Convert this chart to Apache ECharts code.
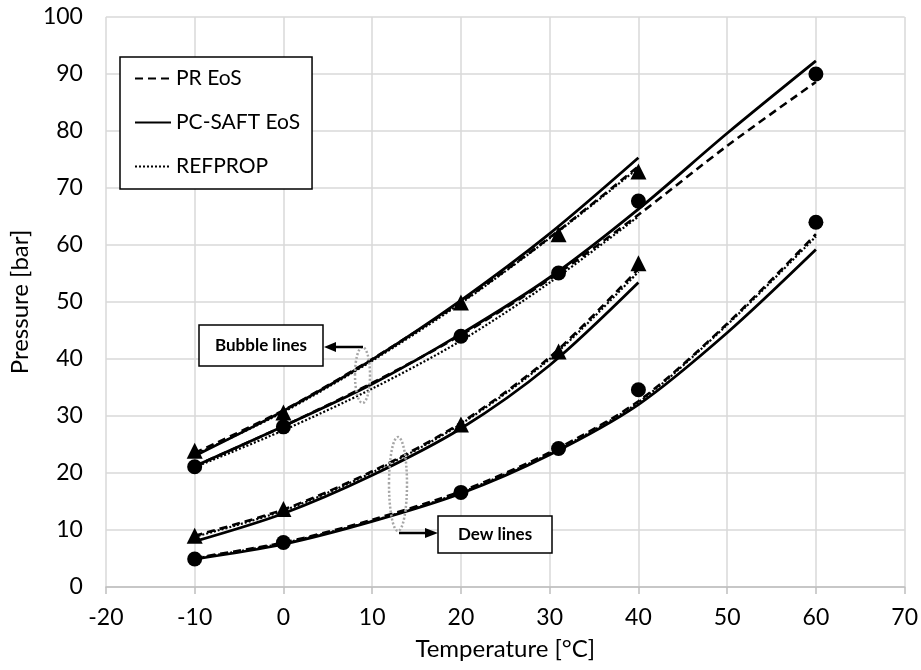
<!DOCTYPE html>
<html>
<head>
<meta charset="utf-8">
<script src="https://cdn.jsdelivr.net/npm/echarts@6/dist/echarts.min.js"></script>
<style>
html,body{margin:0;padding:0;background:#fff;}
#chart{width:921px;height:670px;}
</style>
</head>
<body>
<div id="chart"></div>
<script>
// ---- data ----
const xTicks = [-20, -10, 0, 10, 20, 30, 40, 50, 60, 70];
const tShort = [-10, 0, 10, 20, 30, 40];
const tLong = [-10, 0, 10, 20, 30, 40, 50, 60];

// bubble lines, mixture with triangles
const bubbleTriPR = [23.5, 31.0, 40.0, 50.0, 61.3, 73.8];
const bubbleTriSAFT = [23.0, 30.9, 39.9, 50.3, 62.0, 75.3];
const bubbleTriREF = [23.2, 30.7, 39.7, 49.8, 61.2, 73.5];
// bubble lines, mixture with circles
const bubbleCircPR = [21.2, 28.2, 35.8, 44.2, 54.0, 65.3, 77.4, 88.6];
const bubbleCircSAFT = [21.2, 28.2, 35.6, 44.4, 54.3, 66.3, 79.6, 92.3];
const bubbleCircREF = [21.0, 27.5, 34.8, 43.2, 53.4, 65.0];
// dew lines, mixture with triangles
const dewTriPR = [9.0, 13.6, 20.3, 28.8, 40.3, 55.8];
const dewTriSAFT = [8.0, 12.9, 19.6, 27.8, 38.9, 53.4];
const dewTriREF = [8.8, 13.4, 20.1, 28.6, 40.0, 55.3];
// dew lines, mixture with circles
const dewCircPR = [5.1, 7.8, 11.8, 16.8, 23.6, 32.6, 46.2, 61.9];
const dewCircSAFT = [4.9, 7.5, 11.5, 16.4, 23.2, 32.0, 44.6, 59.2];
const dewCircREF = [5.0, 7.7, 11.6, 16.6, 23.4, 32.4, 46.0, 61.5];

// experimental points
const tTri = [-10, 0, 20, 31, 40];
const tCirc = [-10, 0, 20, 31, 40, 60];
const bubbleTriExp = [23.9, 30.6, 49.9, 61.9, 72.9];
const bubbleCircExp = [21.1, 28.1, 44.0, 55.1, 67.7, 90.0];
const dewTriExp = [9.0, 13.7, 28.5, 41.3, 56.8];
const dewCircExp = [4.9, 7.8, 16.6, 24.3, 34.6, 64.0];

const names = {pr: 'PR EoS', saft: 'PC-SAFT EoS', ref: 'REFPROP'};

// ---- build ----
const FONT = 'Lato, "Open Sans", sans-serif';
function zip(xs, ys) { return ys.map((y, i) => [xs[i], y]); }
const styles = {
  pr: {color: '#000', width: 2.6, type: [8, 5]},
  saft: {color: '#000', width: 2.8, type: 'solid'},
  ref: {color: '#000', width: 2.2, type: [2, 2]}
};
function lineSeries(key, xs, ys) {
  return {
    name: names[key], type: 'line', data: zip(xs, ys), smooth: 0.3,
    symbol: 'none', showSymbol: false, lineStyle: styles[key], itemStyle: {color: '#000'},
    z: key === 'saft' ? 3 : 2, silent: true, animation: false
  };
}
function scatter(name, symbol, size, xs, ys) {
  return {name: name, type: 'scatter', symbol: symbol, symbolSize: size, data: zip(xs, ys),
    itemStyle: {color: '#000', opacity: 1}, z: 5, animation: false, silent: true};
}
const series = [
  lineSeries('pr', tShort, bubbleTriPR),
  lineSeries('saft', tShort, bubbleTriSAFT),
  lineSeries('ref', tShort, bubbleTriREF),
  lineSeries('pr', tLong, bubbleCircPR),
  lineSeries('saft', tLong, bubbleCircSAFT),
  lineSeries('ref', tShort, bubbleCircREF),
  lineSeries('pr', tShort, dewTriPR),
  lineSeries('saft', tShort, dewTriSAFT),
  lineSeries('ref', tShort, dewTriREF),
  lineSeries('pr', tLong, dewCircPR),
  lineSeries('saft', tLong, dewCircSAFT),
  lineSeries('ref', tLong, dewCircREF),
  scatter('exp-bubble-tri', 'triangle', 16, tTri, bubbleTriExp),
  scatter('exp-bubble-circ', 'circle', 15, tCirc, bubbleCircExp),
  scatter('exp-dew-tri', 'triangle', 16, tTri, dewTriExp),
  scatter('exp-dew-circ', 'circle', 15, tCirc, dewCircExp)
];

const chart = echarts.init(document.getElementById('chart'), null, {renderer: 'canvas'});
const gridColor = '#d9d9d9';
const axisColor = '#bfbfbf';
chart.setOption({
  animation: false,
  backgroundColor: '#fff',
  textStyle: {fontFamily: FONT},
  grid: {left: 98, right: 16, top: 17, bottom: 83, containLabel: false},
  legend: {
    data: [names.pr, names.saft, names.ref],
    orient: 'vertical', left: 120, top: 57,
    padding: [11, 12, 12, 14], itemGap: 23, itemWidth: 36, itemHeight: 20,
    itemStyle: {opacity: 0},
    borderColor: '#000', borderWidth: 1.5, backgroundColor: '#fff',
    textStyle: {fontFamily: FONT, fontSize: 21, color: '#000'},
    selectedMode: false, z: 10
  },
  xAxis: {
    type: 'value', min: -20, max: 70, interval: 10,
    name: 'Temperature [°C]', nameLocation: 'middle', nameGap: 50,
    nameTextStyle: {fontFamily: FONT, fontSize: 24, color: '#000'},
    axisLine: {show: true, onZero: false, lineStyle: {color: axisColor, width: 1.5}},
    axisTick: {show: true, length: 7, lineStyle: {color: axisColor, width: 1.5}},
    axisLabel: {fontFamily: FONT, fontSize: 23, color: '#000', margin: 19,
      formatter: v => xTicks.includes(v) ? String(v) : ''},
    splitLine: {show: true, lineStyle: {color: gridColor, width: 1.5}}
  },
  yAxis: {
    type: 'value', min: 0, max: 100, interval: 10,
    name: 'Pressure [bar]', nameLocation: 'middle', nameGap: 64, nameRotate: 90,
    nameTextStyle: {fontFamily: FONT, fontSize: 24, color: '#000'},
    axisLine: {show: false}, axisTick: {show: false},
    axisLabel: {fontFamily: FONT, fontSize: 23, color: '#000', margin: 23},
    splitLine: {show: true, lineStyle: {color: gridColor, width: 1.5}}
  },
  series: series,
  graphic: [
    // bubble lines annotation
    {type: 'ellipse', shape: {cx: 362.5, cy: 375, rx: 7.5, ry: 28}, z: 20,
      style: {fill: null, stroke: '#a6a6a6', lineWidth: 2.5, lineDash: [2, 2]}},
    {type: 'rect', shape: {x: 199, y: 325, width: 124, height: 41}, z: 20,
      style: {fill: '#fff', stroke: '#000', lineWidth: 1.5}},
    {type: 'text', x: 261, y: 346, z: 21,
      style: {text: 'Bubble lines', fontFamily: FONT, fontWeight: 'bold', fontSize: 17,
        fill: '#000', align: 'center', verticalAlign: 'middle'}},
    {type: 'polyline', shape: {points: [[363, 347], [334, 347]]}, z: 20,
      style: {stroke: '#000', lineWidth: 2.5}},
    {type: 'polygon', shape: {points: [[324, 347], [336, 342], [336, 352]]}, z: 20,
      style: {fill: '#000'}},
    // dew lines annotation
    {type: 'ellipse', shape: {cx: 398, cy: 484, rx: 9, ry: 47}, z: 20,
      style: {fill: null, stroke: '#a6a6a6', lineWidth: 2.5, lineDash: [2, 2]}},
    {type: 'rect', shape: {x: 438, y: 516, width: 114, height: 37}, z: 20,
      style: {fill: '#fff', stroke: '#000', lineWidth: 1.5}},
    {type: 'text', x: 495, y: 535, z: 21,
      style: {text: 'Dew lines', fontFamily: FONT, fontWeight: 'bold', fontSize: 17,
        fill: '#000', align: 'center', verticalAlign: 'middle'}},
    {type: 'polyline', shape: {points: [[399, 533], [426, 533]]}, z: 20,
      style: {stroke: '#000', lineWidth: 2.5}},
    {type: 'polygon', shape: {points: [[438, 533], [425, 528], [425, 538]]}, z: 20,
      style: {fill: '#000'}}
  ]
});
</script>
</body>
</html>
